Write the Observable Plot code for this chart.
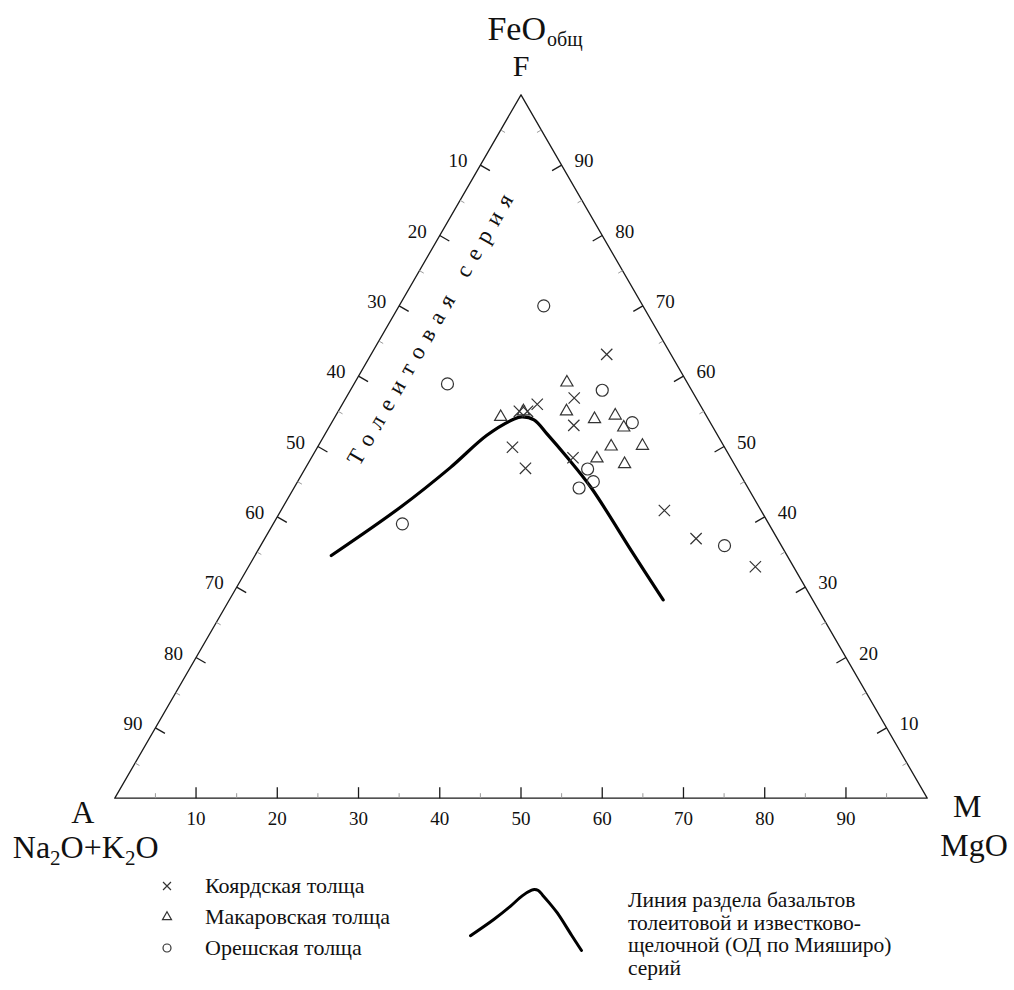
<!DOCTYPE html>
<html><head><meta charset="utf-8">
<script src="https://cdn.jsdelivr.net/npm/d3@7"></script>
<script src="https://cdn.jsdelivr.net/npm/@observablehq/plot@0.6"></script>
<style>
body{margin:0;background:#fff;font-family:"Liberation Serif","Times New Roman",serif;}
#wrap{position:relative;width:1014px;height:990px;overflow:hidden;}
#chart{position:absolute;left:0;top:0;}
#legend{position:absolute;left:0;top:870px;width:1014px;height:120px;}
.li{position:absolute;font-size:22px;color:#111;white-space:nowrap;line-height:1;}
.lt{position:absolute;font-size:21.5px;color:#111;white-space:nowrap;line-height:22.5px;}
.ls{position:absolute;}
</style></head><body>
<div id="wrap"><div id="chart"></div><div id="legend"></div></div>
<script>
// ---------- data: [A = Na2O+K2O, F = FeOобщ, M = MgO], % ----------
const seriesNames = ["Коярдская толща", "Макаровская толща", "Орешская толща"];
const koyard = [
  [7.9,63.1,29.0],[15.0,56.9,28.1],[20.0,56.0,24.0],[22.7,55.0,22.3],[21.7,55.0,23.3],
  [17.0,53.0,30.0],[26.1,49.9,24.0],[26.0,46.9,27.1],[19.4,48.4,32.2],[11.9,40.9,47.2],
  [10.0,36.9,53.1],[4.7,32.9,62.4]
];
const makarov = [
  [14.8,59.1,26.1],[16.9,55.0,28.1],[14.0,53.9,32.1],[11.2,54.4,34.4],[11.0,52.7,36.3],
  [13.9,50.0,36.1],[10.0,50.1,39.9],[16.5,48.3,35.2],[13.5,47.5,39.0],[25.4,54.2,20.4],
  [22.2,55.0,22.8]
];
const oresh = [
  [12.2,70.0,17.8],[29.6,58.9,11.5],[11.0,58.0,31.0],[9.6,53.4,37.0],[18.4,46.8,34.8],
  [18.6,45.0,36.4],[20.8,44.1,35.1],[45.1,39.0,15.9],[7.0,35.9,57.1]
];
const miyashiro = [
  [56.1,34.5,9.4],[44.1,41.4,14.5],[35.2,47.0,17.8],[28.4,51.6,20.0],[23.9,53.9,22.2],
  [22.8,54.2,23.0],[21.5,53.8,24.7],[20.9,51.8,27.3],[20.1,48.5,31.4],[19.3,44.2,36.5],
  [18.8,34.7,46.5],[18.4,28.2,53.4]
];
const majorTicks = [10,20,30,40,50,60,70,80,90];
const minorTicks = [5,15,25,35,45,55,65,75,85,95];
const vertexA = ["A", "Na2O+K2O"];
const vertexF = ["F", "FeO", "общ"];
const vertexM = ["M", "MgO"];
const seriesLabel = "Толеитовая серия";
const seriesLabelPos = [27.3, 67.2, 5.5];
const legendLineText = ["Линия раздела базальтов","толеитовой и известково-","щелочной (ОД по Мияширо)","серий"];

// ---------- ternary projection ----------
const S = Math.sqrt(3)/2;
const P = ([A,F,M]) => { const s = A+F+M; const f = F/s*100, m = M/s*100; return {x: m + f/2, y: f*S}; };
const U = 812.4/100; // px per unit
const edges = [
  {pt: t => P([100-t,0,t]), n:[0,1], side:"bottom"},
  {pt: t => P([t,100-t,0]), n:[S,-0.5], side:"left"},
  {pt: t => P([0,t,100-t]), n:[-S,-0.5], side:"right"}
];
const tickLinks = (vals, len) => edges.flatMap(e => vals.map(t => {
  const p = e.pt(t); return {x1:p.x, y1:p.y, x2:p.x + e.n[0]*len/U, y2:p.y + e.n[1]*len/U};
}));
const labelsFor = side => { const e = edges.find(d => d.side === side); return majorTicks.map(t => ({...e.pt(t), label:String(t)})); };
const outline = [P([100,0,0]), P([0,0,100]), P([0,100,0]), P([100,0,0])];
const vA = P([100,0,0]), vF = P([0,100,0]), vM = P([0,0,100]);
const txt = {fill:"#111", fontFamily:"Liberation Serif"};

const chart = Plot.plot({
  width: 1014, height: 870, margin: 0,
  x: {domain:[0,100], range:[114.3,926.7], axis:null},
  y: {domain:[0,100*S], range:[797.7,94.3], axis:null},
  style: {fontFamily:"Liberation Serif", background:"white", overflow:"visible"},
  marks: [
    Plot.line(outline, {x:"x", y:"y", stroke:"#1a1a1a", strokeWidth:1.3}),
    Plot.link(tickLinks(minorTicks, 5), {x1:"x1", y1:"y1", x2:"x2", y2:"y2", stroke:"#9a9a9a", strokeWidth:1}),
    Plot.link(tickLinks(majorTicks, 11), {x1:"x1", y1:"y1", x2:"x2", y2:"y2", stroke:"#1a1a1a", strokeWidth:1.3}),
    Plot.text(labelsFor("bottom"), {x:"x", y:"y", text:"label", dy:21, fontSize:19, ...txt}),
    Plot.text(labelsFor("left"), {x:"x", y:"y", text:"label", textAnchor:"end", dx:-13, dy:-4, fontSize:19, ...txt}),
    Plot.text(labelsFor("right"), {x:"x", y:"y", text:"label", textAnchor:"start", dx:13, dy:-4, fontSize:19, ...txt}),
    Plot.line(miyashiro.map(P), {x:"x", y:"y", curve:"catmull-rom", stroke:"#000", strokeWidth:3.2}),
    Plot.dot(koyard.map(P), {x:"x", y:"y", symbol:"times", r:5.2, stroke:"#333", strokeWidth:1.2}),
    Plot.dot(makarov.map(P), {x:"x", y:"y", symbol:"triangle2", r:5.8, stroke:"#333", strokeWidth:1.2, fill:"none"}),
    Plot.dot(oresh.map(P), {x:"x", y:"y", symbol:"circle", r:6, stroke:"#333", strokeWidth:1.2, fill:"none"}),
    Plot.text([{...vF, label:vertexF[0]}], {x:"x", y:"y", text:"label", lineAnchor:"bottom", dy:-19, fontSize:30, ...txt}),
    Plot.text([{...vF, label:vertexF[1]}], {x:"x", y:"y", text:"label", lineAnchor:"bottom", textAnchor:"end", dx:25, dy:-55, fontSize:34, ...txt}),
    Plot.text([{...vF, label:vertexF[2]}], {x:"x", y:"y", text:"label", lineAnchor:"bottom", textAnchor:"start", dx:26, dy:-49, fontSize:20, ...txt}),
    Plot.text([{...vA, label:vertexA[0]}], {x:"x", y:"y", text:"label", lineAnchor:"bottom", dx:-32, dy:25, fontSize:32, ...txt}),
    Plot.text([{...vA, label:vertexA[1]}], {x:"x", y:"y", text:"label", lineAnchor:"bottom", textAnchor:"start", dx:-102, dy:60, fontSize:32, ...txt}),
    Plot.text([{...vM, label:vertexM[0]}], {x:"x", y:"y", text:"label", lineAnchor:"bottom", dx:40, dy:19, fontSize:32, ...txt}),
    Plot.text([{...vM, label:vertexM[1]}], {x:"x", y:"y", text:"label", lineAnchor:"bottom", textAnchor:"start", dx:13, dy:58, fontSize:32, ...txt}),
    Plot.text([{...P(seriesLabelPos), label:seriesLabel}], {x:"x", y:"y", text:"label", rotate:-60, fontSize:23, ...txt})
  ]
});
document.getElementById("chart").appendChild(chart);

// subscripts and letter spacing
const NS = "http://www.w3.org/2000/svg";
d3.select(chart).selectAll("text").each(function(){
  const t = this.textContent;
  if (t === vertexA[1]) {
    this.textContent = "";
    [["Na",0],["2",1],["O+K",0],["2",1],["O",0]].forEach(([s,sub], i, arr) => {
      const ts = document.createElementNS(NS, "tspan");
      ts.textContent = s;
      if (sub) { ts.setAttribute("font-size","21"); ts.setAttribute("dy","7"); }
      else if (i > 0 && arr[i-1][1]) ts.setAttribute("dy","-7");
      this.appendChild(ts);
    });
  }
  if (t === seriesLabel) this.style.letterSpacing = "0.4em";
});

// ---------- legend ----------
const legend = document.getElementById("legend");
const syms = [[d3.symbolTimes, 43], [d3.symbolTriangle2, 58], [d3.symbolCircle, 50]];
const rowY = [16, 47, 78];
seriesNames.forEach((name, i) => {
  const s = d3.create("svg").attr("width", 20).attr("height", 20).attr("class","ls")
    .style("left", "157px").style("top", (rowY[i]-10) + "px");
  s.append("path").attr("transform","translate(10,10)")
    .attr("d", d3.symbol(syms[i][0], syms[i][1])())
    .attr("fill","none").attr("stroke","#333").attr("stroke-width",1.2);
  legend.appendChild(s.node());
  const d = document.createElement("div");
  d.className = "li"; d.textContent = name;
  d.style.left = "205px"; d.style.top = rowY[i] + "px"; d.style.transform = "translateY(-50%)";
  legend.appendChild(d);
});
const lt = document.createElement("div");
lt.className = "lt"; lt.style.left = "628px"; lt.style.top = "19px";
lt.innerHTML = legendLineText.map(s => `<div>${s}</div>`).join("");
legend.appendChild(lt);

const lp = miyashiro.map(P);
const mini = Plot.plot({
  width: 117, height: 67, margin: 3,
  x: {domain: d3.extent(lp, d => d.x), axis:null},
  y: {domain: d3.extent(lp, d => d.y), axis:null},
  style: {background:"transparent", overflow:"visible"},
  marks: [Plot.line(lp, {x:"x", y:"y", curve:"catmull-rom", stroke:"#000", strokeWidth:3})]
});
mini.style.position = "absolute"; mini.style.left = "467px"; mini.style.top = "16px";
legend.appendChild(mini);
</script>
</body></html>
